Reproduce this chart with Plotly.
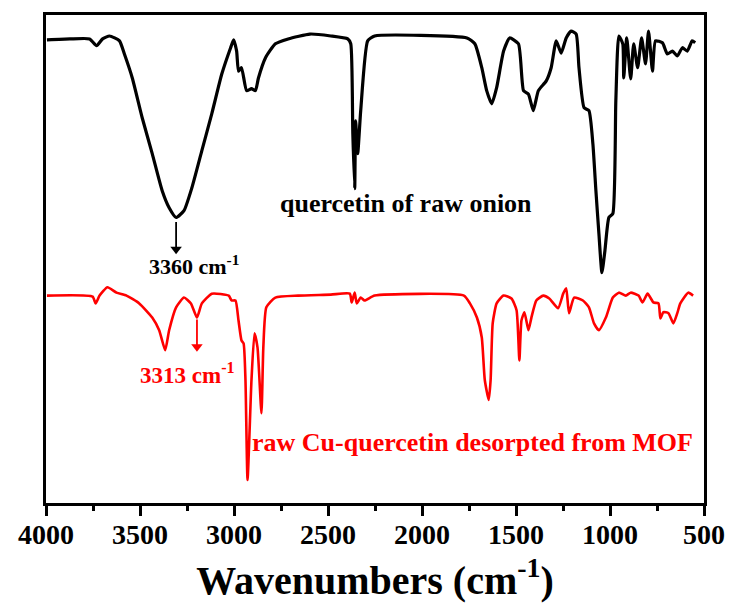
import plotly.graph_objects as go

# FTIR spectra (arbitrary transmittance units, offset for display)
wn_onion = [3995, 3873, 3768, 3731, 3699, 3662, 3609, 3583, 3541, 3488, 3435, 3382,
            3345, 3308, 3266, 3224, 3171, 3118, 3065, 3018, 3002, 2986, 2976, 2960,
            2933, 2907, 2886, 2870, 2833, 2780, 2712, 2596, 2485, 2395, 2379, 2368,
            2358, 2353, 2342, 2326, 2289, 2252, 1761, 1719, 1682, 1656, 1629, 1603,
            1566, 1534, 1487, 1460, 1434, 1408, 1381, 1339, 1313, 1286, 1260, 1233,
            1207, 1180, 1165, 1138, 1112, 1091, 1075, 1059, 1043, 1027, 1006, 985,
            969, 953, 932, 927, 911, 890, 874, 853, 832, 811, 795, 774, 758, 721,
            695, 668, 642, 615, 589, 563, 547]
t_onion = [94.9, 95.1, 95.1, 93.7, 95.1, 95.7, 94.7, 92.0, 87.1, 78.9, 71.6, 64.0,
           60.5, 58.5, 59.9, 64.6, 72.2, 79.8, 87.9, 93.3, 94.9, 92.6, 88.5, 89.2,
           84.5, 84.9, 84.5, 87.1, 91.2, 94.1, 95.1, 96.1, 95.7, 95.1, 94.1, 75.7,
           64.4, 78.3, 71.6, 80.4, 94.7, 95.7, 95.3, 94.1, 89.2, 84.5, 81.8, 85.1,
           92.6, 95.3, 94.1, 84.5, 83.8, 80.4, 84.5, 86.5, 89.2, 94.7, 92.2, 95.3,
           96.7, 96.1, 89.2, 81.0, 80.4, 73.6, 64.0, 55.2, 47.2, 51.7, 58.5, 59.3,
           82.4, 95.7, 94.1, 87.1, 95.3, 86.9, 94.1, 89.2, 95.3, 90.0, 96.7, 88.5,
           94.7, 94.3, 92.0, 92.6, 91.6, 93.3, 92.6, 94.7, 94.3]

wn_mof = [3995, 3752, 3736, 3715, 3673, 3625, 3572, 3504, 3435, 3398, 3366, 3345,
          3308, 3266, 3229, 3197, 3171, 3118, 3028, 3013, 2992, 2976, 2960, 2949,
          2939, 2928, 2907, 2891, 2875, 2854, 2844, 2828, 2780, 2659, 2485, 2384,
          2374, 2358, 2347, 2326, 2305, 2252, 1777, 1745, 1708, 1682, 1666, 1645,
          1635, 1624, 1603, 1566, 1524, 1497, 1482, 1471, 1455, 1434, 1418, 1392,
          1355, 1323, 1276, 1249, 1233, 1218, 1191, 1144, 1112, 1085, 1059, 1022,
          985, 953, 916, 890, 848, 827, 800, 769, 742, 732, 716, 689, 663, 642,
          626, 584, 558]
t_mof = [42.5, 42.3, 40.9, 42.5, 44.2, 43.1, 42.5, 40.9, 38.0, 35.4, 31.3, 35.4,
         40.1, 42.1, 40.9, 38.0, 40.9, 42.9, 42.5, 41.5, 41.5, 37.4, 33.3, 32.7,
         25.2, 4.7, 25.2, 34.8, 31.9, 18.4, 31.9, 40.1, 42.1, 42.5, 42.7, 42.9,
         41.1, 43.1, 40.9, 42.1, 41.5, 42.5, 42.5, 40.9, 38.0, 33.9, 25.2, 21.1,
         25.2, 36.8, 40.9, 42.5, 41.9, 39.5, 29.2, 37.4, 39.1, 35.4, 38.0, 41.5,
         42.5, 41.9, 39.9, 42.9, 44.0, 38.9, 42.1, 41.5, 40.1, 36.8, 35.4, 38.0,
         42.1, 43.1, 42.5, 43.1, 42.5, 41.1, 42.9, 41.1, 40.9, 37.8, 39.1, 38.9,
         36.8, 38.9, 40.9, 43.1, 42.5]

x_ticks = [4000, 3500, 3000, 2500, 2000, 1500, 1000, 500]

# marked peaks: (wavenumber, arrow start, arrow tip, colour)
peak_arrows = [
    (3308, 57.6, 52.0, "black"),
    (3197, 37.6, 32.0, "#ff0000"),
]

FONT = "Liberation Serif"

fig = go.Figure()
fig.add_trace(go.Scatter(x=wn_onion, y=t_onion, mode="lines",
                         line=dict(color="black", width=3.2, shape="spline", smoothing=0.5),
                         showlegend=False))
fig.add_trace(go.Scatter(x=wn_mof, y=t_mof, mode="lines",
                         line=dict(color="#ff0000", width=2.6, shape="spline", smoothing=0.5),
                         showlegend=False))

# peak arrows: a short stem plus a downward triangle head
for px, y0, y1, col in peak_arrows:
    fig.add_trace(go.Scatter(x=[px, px], y=[y0, y1], mode="lines",
                             line=dict(color=col, width=1.8), showlegend=False,
                             hoverinfo="skip"))
    fig.add_trace(go.Scatter(x=[px], y=[y1], mode="markers",
                             marker=dict(symbol="triangle-down", size=10, color=col),
                             showlegend=False, hoverinfo="skip"))

labels = [
    (3215, 48.7, "3360 cm<sup>-1</sup>", "black", 22),
    (3245, 26.6, "3313 cm<sup>-1</sup>", "#ff0000", 23),
    (2085, 61.4, "quercetin of raw onion", "black", 26),
    (1730, 12.5, "raw Cu-quercetin desorpted from MOF", "#ff0000", 26),
]
for lx, ly, txt, col, fs in labels:
    fig.add_annotation(x=lx, y=ly, xref="x", yref="y", text=f"<b>{txt}</b>",
                       showarrow=False, font=dict(family=FONT, size=fs, color=col))

fig.update_xaxes(range=[4000, 500], tickvals=x_ticks,
                 ticktext=[str(v) for v in x_ticks],
                 ticks="outside", ticklen=10, tickwidth=2.5, tickcolor="black",
                 minor=dict(dtick=250, tick0=0, ticks="outside", ticklen=5,
                            tickwidth=2.5, tickcolor="black"),
                 ticklabelstandoff=-6,
                 showline=True, linecolor="black", linewidth=3, mirror=True,
                 showgrid=False, zeroline=False,
                 tickfont=dict(family=FONT, size=28, color="black", weight="bold"),
                 title=dict(text="<b>Wavenumbers (cm<sup>-1</sup>)</b>",
                            font=dict(family=FONT, size=40, color="black"),
                            standoff=18))
fig.update_yaxes(range=[0, 100], showticklabels=False, ticks="",
                 showline=True, linecolor="black", linewidth=3, mirror=True,
                 showgrid=False, zeroline=False)

fig.update_layout(width=737, height=608, plot_bgcolor="white", paper_bgcolor="white",
                  margin=dict(l=46, r=28, t=14, b=105))

fig.write_html("out.html")
